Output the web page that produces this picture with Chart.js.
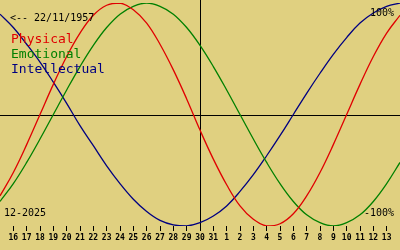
<!DOCTYPE html>
<html>
<head>
<meta charset="utf-8">
<script src="https://cdn.jsdelivr.net/npm/chart.js@4/dist/chart.umd.min.js"></script>
<style>
  html, body { margin: 0; padding: 0; background: #e0d080; }
  canvas { display: block; }
</style>
</head>
<body>
<canvas id="chart" width="400" height="250"></canvas>
<script>
// day index: 15..45 (30 = 30 Dec 2025)
const days = [15,16,17,18,19,20,21,22,23,24,25,26,27,28,29,30,31,32,33,34,35,36,37,38,39,40,41,42,43,44,45];
const tickDays = [16,17,18,19,20,21,22,23,24,25,26,27,28,29,30,31,32,33,34,35,36,37,38,39,40,41,42,43,44];
const tickLabels = ["16","17","18","19","20","21","22","23","24","25","26","27","28","29","30","31",
                    "1","2","3","4","5","6","7","8","9","10","11","12","13"];
const today = 30;

const physical = [-0.73,-0.52,-0.27,0,0.27,0.52,0.73,0.89,0.98,1.0,0.94,0.82,0.63,0.40,0.14,-0.14,
                  -0.40,-0.63,-0.82,-0.94,-1.0,-0.98,-0.89,-0.73,-0.52,-0.27,0,0.27,0.52,0.73,0.89];
const emotional = [-0.78,-0.62,-0.43,-0.22,0,0.22,0.43,0.62,0.78,0.90,0.97,1.0,0.97,0.90,0.78,0.62,
                   0.43,0.22,0,-0.22,-0.43,-0.62,-0.78,-0.90,-0.97,-1.0,-0.97,-0.90,-0.78,-0.62,-0.43];
const intellectual = [0.90,0.78,0.63,0.47,0.29,0.10,-0.10,-0.28,-0.46,-0.62,-0.76,-0.87,-0.95,-0.99,-1.0,-0.97,
                      -0.91,-0.82,-0.69,-0.54,-0.37,-0.19,0,0.19,0.37,0.54,0.69,0.82,0.91,0.97,1.0];

const names = ["Physical", "Emotional", "Intellectual"];
const colors = ["#e00000", "#008000", "#000080"];

const pts = (arr) => arr.map((v, i) => ({ x: days[i], y: v }));

const crossLines = {
  id: "crossLines",
  beforeDatasetsDraw(chart) {
    const { ctx, chartArea, scales } = chart;
    const y0 = Math.round(scales.y.getPixelForValue(0)) + 0.5;
    const xt = Math.round(scales.x.getPixelForValue(today)) + 0.5;
    ctx.save();
    ctx.strokeStyle = "#000";
    ctx.lineWidth = 1;
    ctx.beginPath();
    ctx.moveTo(0, y0); ctx.lineTo(chart.width, y0);
    ctx.moveTo(xt, 0); ctx.lineTo(xt, chartArea.bottom);
    ctx.stroke();
    ctx.restore();
  }
};

const texts = {
  id: "texts",
  afterDraw(chart) {
    const ctx = chart.ctx;
    ctx.save();
    ctx.textBaseline = "alphabetic";
    ctx.font = "10px 'DejaVu Sans Mono'";
    ctx.fillStyle = "#000";
    ctx.textAlign = "left";
    ctx.fillText("<-- 22/11/1957", 10, 20.5);
    ctx.fillText("12-2025", 4, 215.5);
    ctx.textAlign = "right";
    ctx.fillText("100%", 394, 16);
    ctx.fillText("-100%", 394, 215.5);
    ctx.textAlign = "left";
    ctx.font = "13px 'DejaVu Sans Mono'";
    names.forEach((n, i) => {
      ctx.fillStyle = colors[i];
      ctx.fillText(n, 11, 43 + i * 14.8);
    });
    ctx.restore();
  }
};

new Chart(document.getElementById("chart"), {
  type: "line",
  data: {
    datasets: names.map((n, i) => ({
      label: n,
      data: pts([physical, emotional, intellectual][i]),
      borderColor: colors[i],
      borderWidth: 1.3,
      pointRadius: 0,
      tension: 0.4,
      fill: false
    }))
  },
  options: {
    responsive: false,
    animation: false,
    events: [],
    layout: { padding: { top: 3, left: 0, right: 0, bottom: 0 } },
    plugins: { legend: { display: false }, tooltip: { enabled: false } },
    scales: {
      x: {
        type: "linear",
        min: 15,
        max: 45,
        afterBuildTicks: (s) => { s.ticks = tickDays.map(v => ({ value: v })); },
        afterFit: (s) => { s.height = 24; },
        border: { display: false },
        grid: { drawOnChartArea: false, drawTicks: true, tickLength: 5, color: "#000", lineWidth: 1 },
        ticks: {
          autoSkip: false,
          maxRotation: 0,
          padding: 2,
          color: "#000",
          font: { family: "'DejaVu Sans Mono'", size: 8, weight: "bold" },
          callback: (v) => tickLabels[tickDays.indexOf(v)]
        }
      },
      y: { display: false, min: -1, max: 1 }
    }
  },
  plugins: [crossLines, texts]
});
</script>
</body>
</html>
